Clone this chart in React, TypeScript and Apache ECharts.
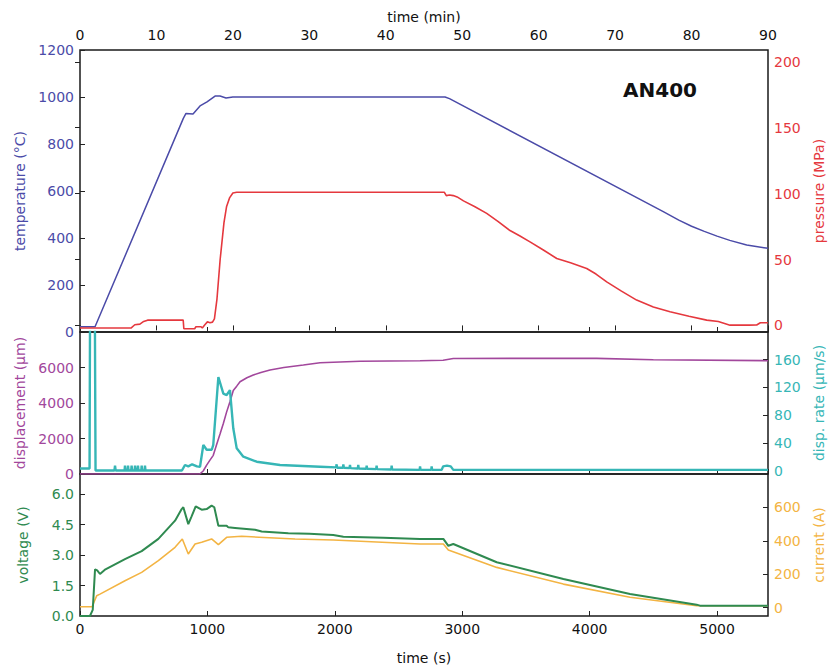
import React, { useEffect, useRef } from "react";
import * as echarts from "echarts";

// time (s) / value pairs
const temperature: [number, number][] = [
  [0, 22], [118, 22], [811, 909], [832, 930], [887, 928], [942, 962], [997, 979],
  [1060, 1004], [1099, 1004], [1146, 996], [1200, 1000], [2865, 1000], [2900, 993],
  [4578, 512], [4700, 476], [4800, 450], [4900, 428], [5000, 408], [5100, 390],
  [5233, 370], [5400, 356],
];

const pressure: [number, number][] = [
  [0, -2], [400, -2], [430, 0.5], [470, 1], [500, 3], [530, 4], [810, 4], [815, -2.5],
  [900, -2.5], [910, -1], [950, -1], [960, -2], [980, 0.5], [1000, 2.7], [1020, 2],
  [1040, 2.5], [1055, 5], [1075, 20], [1100, 50], [1130, 78], [1150, 90], [1175, 97],
  [1200, 100.5], [1230, 101], [2860, 101], [2875, 98.5], [2900, 99], [2930, 98.5],
  [2960, 97.5], [3010, 94.5], [3100, 90], [3192, 85], [3280, 79], [3375, 72],
  [3450, 68], [3532, 63.4], [3640, 57], [3742, 50.8], [3850, 47.5], [3977, 43.2],
  [4050, 39], [4134, 33], [4250, 26], [4369, 19.2], [4500, 14], [4631, 10.3],
  [4780, 7], [4919, 4], [5010, 3], [5102, 0.2], [5250, 0.2], [5311, 0.3], [5340, 2],
  [5400, 2],
];

const displacement: [number, number][] = [
  [0, 0], [940, 0], [967, 170], [994, 500], [1020, 780], [1046, 1050], [1070, 1600],
  [1099, 2250], [1125, 2850], [1151, 3500], [1177, 4074], [1203, 4700], [1230, 4950],
  [1256, 5200], [1310, 5420], [1360, 5578], [1420, 5720], [1491, 5860], [1600, 6000],
  [1753, 6141], [1884, 6271], [1988, 6300], [2200, 6350], [2669, 6384], [2850, 6410],
  [2930, 6510], [4055, 6516], [4500, 6440], [5400, 6384],
];

const dispRate: [number, number][] = [
  [0, 3], [75, 3], [80, 300], [115, 300], [122, 0], [270, 0], [275, 7], [280, 0],
  [350, 0], [353, 7], [357, 0], [374, 0], [377, 7], [381, 0], [402, 0], [405, 7],
  [409, 0], [429, 0], [432, 7], [436, 0], [452, 0], [455, 7], [459, 0], [481, 0],
  [484, 7], [488, 0], [507, 0], [510, 7], [514, 0], [800, 0], [824, 8], [850, 6],
  [880, 9], [918, 6], [942, 5.5], [968, 37], [994, 30], [1034, 30], [1046, 37],
  [1086, 135], [1125, 111], [1151, 109], [1177, 116], [1203, 61], [1230, 32],
  [1282, 20], [1387, 12.7], [1570, 8], [1884, 5.5], [2010, 4.5], [2014, 9], [2018, 4],
  [2064, 4], [2067, 9], [2071, 4], [2116, 3.5], [2119, 8], [2123, 3.5], [2181, 3],
  [2184, 8], [2188, 3], [2247, 2.5], [2250, 7], [2254, 2.5], [2325, 2], [2328, 7],
  [2332, 2], [2443, 1.5], [2446, 7], [2450, 1.5], [2666, 1], [2669, 6], [2673, 1],
  [2757, 1], [2760, 6], [2764, 1], [2839, 1], [2850, 6], [2880, 7], [2910, 6],
  [2930, 1], [5400, 1],
];

const voltage: [number, number][] = [
  [0, 0], [78, 0], [100, 0.3], [118, 2.3], [135, 2.25], [157, 2.07], [200, 2.3],
  [353, 2.8], [484, 3.2], [615, 3.8], [746, 4.7], [798, 5.27], [811, 5.36], [850, 4.53],
  [875, 4.9], [908, 5.4], [955, 5.24], [994, 5.27], [1033, 5.44], [1054, 5.36],
  [1086, 4.45], [1151, 4.45], [1164, 4.37], [1217, 4.34], [1374, 4.25], [1426, 4.17],
  [1635, 4.08], [1800, 4.05], [1988, 3.99], [2067, 3.91], [2381, 3.86], [2669, 3.8],
  [2852, 3.8], [2891, 3.46], [2930, 3.55], [3271, 2.65], [3794, 1.82], [4317, 1.08],
  [4840, 0.56], [4866, 0.51], [5400, 0.51],
];

const current: [number, number][] = [
  [0, 5], [78, 5], [95, 5], [131, 71], [157, 81], [353, 161], [484, 211], [615, 281],
  [746, 361], [803, 411], [850, 321], [903, 381], [955, 391], [1033, 411], [1086, 377],
  [1151, 421], [1269, 427], [1688, 411], [1988, 405], [2669, 381], [2852, 381],
  [2891, 345], [3271, 241], [3794, 141], [4317, 62], [4840, 11], [5400, 11],
];

const pressureTicks = [0, 50, 100, 150, 200];
const dispTicks = [0, 2000, 4000, 6000];
const rateTicks = [0, 40, 80, 120, 160];
const voltageTicks = [0, 1.5, 3, 4.5, 6];
const currentTicks = [0, 200, 400, 600];

const C = {
  temp: "#4b4ba8",
  pres: "#e5383e",
  disp: "#a2479c",
  rate: "#36b6b6",
  volt: "#2f8a50",
  curr: "#f3b443",
};

const FONT = "DejaVu Sans";
const plain = (v: number) => String(v);

export default function App() {
  const ref = useRef<HTMLDivElement>(null);
  useEffect(() => {
    const chart = echarts.init(ref.current!, null, { renderer: "svg" });
    const gridBase = {
      show: true,
      borderColor: "#1a1a1a",
      borderWidth: 1.5,
      backgroundColor: "transparent",
      containLabel: false,
      outerBoundsMode: "none",
    };
    const tick = { show: true, inside: true, length: 5, lineStyle: { color: "#222", width: 1 } };
    const xHidden = (gridIndex: number) => ({
      type: "value",
      gridIndex,
      min: 0,
      max: 5400,
      interval: 1000,
      position: "bottom",
      axisLine: { show: false },
      axisTick: tick,
      axisLabel: { show: false },
      splitLine: { show: false },
    });
    const yAx = (
      gridIndex: number,
      position: string,
      min: number,
      max: number,
      color: string,
      name: string,
      nameGap: number,
      ticks: number[] | null,
      interval: number | null,
      fmt: (v: number) => string = plain
    ) => {
      const a: any = {
        type: "value",
        gridIndex,
        position,
        min,
        max,
        name,
        nameLocation: "middle",
        nameRotate: 90,
        nameGap,
        nameTextStyle: { color, fontFamily: FONT, fontSize: 14 },
        axisLine: { show: false },
        splitLine: { show: false },
        axisTick: { ...tick },
        axisLabel: {
          color,
          fontFamily: FONT,
          fontSize: 14,
          margin: 6,
          formatter: fmt,
        },
      };
      if (ticks) {
        a.axisLabel.customValues = ticks;
        a.axisTick.customValues = ticks;
      }
      if (interval) a.interval = interval;
      return a;
    };

    const lineSeries = (data: [number, number][], xi: number, yi: number, color: string, width: number) => ({
      type: "line",
      data,
      xAxisIndex: xi,
      yAxisIndex: yi,
      showSymbol: false,
      symbol: "none",
      clip: true,
      lineStyle: { color, width },
      itemStyle: { color },
    });

    chart.setOption({
      animation: false,
      backgroundColor: "#ffffff",
      textStyle: { fontFamily: FONT },
      grid: [
        { ...gridBase, left: 80, top: 50, width: 688, height: 282 },
        { ...gridBase, left: 80, top: 332, width: 688, height: 142 },
        { ...gridBase, left: 80, top: 474, width: 688, height: 142 },
      ],
      xAxis: [
        xHidden(0),
        {
          type: "value",
          gridIndex: 0,
          position: "top",
          min: 0,
          max: 90,
          interval: 10,
          name: "time (min)",
          nameLocation: "middle",
          nameGap: 26,
          nameTextStyle: { color: "#111", fontFamily: FONT, fontSize: 14 },
          axisLine: { show: false },
          axisTick: tick,
          axisLabel: { color: "#111", fontFamily: FONT, fontSize: 14, margin: 8, formatter: plain },
          splitLine: { show: false },
        },
        xHidden(1),
        {
          type: "value",
          gridIndex: 2,
          position: "bottom",
          min: 0,
          max: 5400,
          interval: 1000,
          name: "time (s)",
          nameLocation: "middle",
          nameGap: 35,
          nameTextStyle: { color: "#111", fontFamily: FONT, fontSize: 14 },
          axisLine: { show: false },
          axisTick: tick,
          axisLabel: { color: "#111", fontFamily: FONT, fontSize: 14, margin: 6, showMaxLabel: false, formatter: plain },
          splitLine: { show: false },
        },
      ],
      yAxis: [
        yAx(0, "left", 0, 1200, C.temp, "temperature (°C)", 45, null, 200),
        yAx(0, "right", -5, 209, C.pres, "pressure (MPa)", 36, pressureTicks, null),
        yAx(1, "left", 0, 8000, C.disp, "displacement (μm)", 49, dispTicks, null),
        yAx(1, "right", -5, 200, C.rate, "disp. rate (μm/s)", 42, rateTicks, null),
        yAx(2, "left", 0, 7, C.volt, "voltage (V)", 50, voltageTicks, null, (v: number) => v.toFixed(1)),
        yAx(2, "right", -50, 800, C.curr, "current (A)", 34, currentTicks, null),
      ],
      series: [
        lineSeries(temperature, 0, 0, C.temp, 1.5),
        lineSeries(pressure, 0, 1, C.pres, 1.6),
        lineSeries(displacement, 2, 2, C.disp, 1.6),
        lineSeries(dispRate, 2, 3, C.rate, 2.4),
        lineSeries(current, 3, 5, C.curr, 1.6),
        lineSeries(voltage, 3, 4, C.volt, 2),
      ],
      graphic: [
        {
          type: "text",
          left: 623,
          top: 80,
          style: { text: "AN400", fill: "#111", font: "bold 20px 'DejaVu Sans'" },
        },
      ],
    });
    return () => chart.dispose();
  }, []);
  return (
    <div
      ref={ref}
      style={{ position: "absolute", left: 0, top: 0, width: 829, height: 668 }}
    />
  );
}
